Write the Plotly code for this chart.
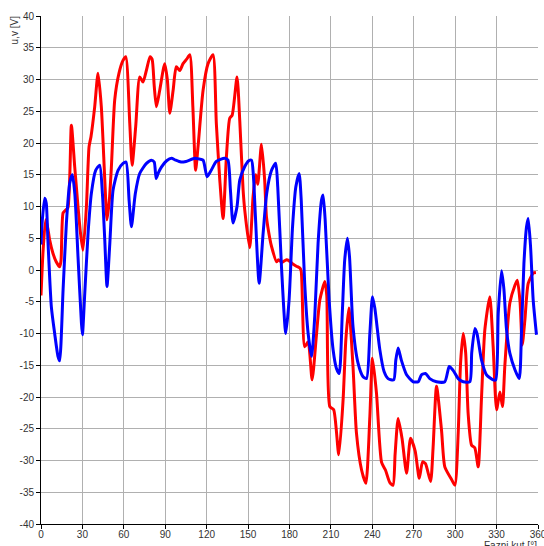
import plotly.graph_objects as go

x_ticks = list(range(0, 361, 30))
y_ticks = list(range(-40, 41, 5))

red_deg = [0, 1.5, 3.4, 5, 6.3, 8.7, 11, 13.5, 14.5, 16, 17.7, 19.5, 22, 24.4, 26.8, 28.5, 30.4,
           32.9, 34.8, 36.2, 38.9, 41.3, 43.7, 46.2, 47.8, 49.5, 51, 53.4, 56.5, 59.4, 61.4, 64.3,
           66, 68.6, 71.5, 73.9, 76.4, 79, 80.5, 82, 83.6, 86, 89.6, 91.5, 93.3, 95.7, 98, 100.5,
           102.9, 105.5, 107.8, 110, 112, 113.7, 117.4, 121, 124.6, 127, 129.5, 131.9, 134.3,
           136.7, 138.5, 142, 144, 146.4, 147.6, 151.2, 153.6, 155.5, 157, 159.7, 162, 163.3,
           165.7, 167, 170.6, 172, 174.4, 177.8, 180, 182.7, 185, 187.5, 188.5, 191, 193.5,
           196.4, 199.6, 202, 205.6, 207, 209.2, 212, 215.7, 218.8, 220.8, 223, 226, 228.5,
           232.2, 235.3, 238.2, 240.1, 243, 246.7, 249.5, 252.7, 255, 256.5, 258.7, 261.5,
           264.8, 267.7, 271, 274, 276.4, 278.5, 282.2, 284, 286.5, 290.1, 292.5, 297.4, 299.8,
           302.2, 303.9, 305.8, 307.6, 309.4, 311.9, 314.2, 316.7, 319.1, 321.5, 325.1, 327.5,
           330, 332.4, 334.3, 336, 339.6, 343.3, 345, 347, 348.6, 350.5, 352.9, 356.5, 358.5]
red_val = [-4, 3, 7.9, 6.5, 4.7, 2.6, 1.3, 0.5, 1.5, 9, 9.4, 9.8, 22.8, 16.3, 10, 6, 3.1,
           10, 19.4, 21, 25.7, 31, 25.7, 14.2, 7.9, 11, 16.3, 26.8, 31, 33, 33.6, 23.1,
           16.5, 22.6, 30.4, 29.6, 31.5, 33.6, 33.2, 29, 25.7, 28.3, 32.5, 30, 24.7, 28.3, 32, 31.4,
           32.5, 33.2, 33.9, 25.7, 15.7, 19.3, 28.3, 32.5, 33.9, 23.1, 14.2, 8.1, 17.8,
           23.9, 24.4, 30.4, 23.4, 12.6, 9.4, 3.5, 11.5, 15, 13.5, 19.8, 14.2, 8.4,
           5, 3.7, 1.3, 1.6, 1.2, 1.6, 1.4, 0.9, 0.6, 0.3, -0.2, -12.1, -11.3,
           -17.3, -10, -4.7, -1.8, -4, -21.5, -22, -29.1, -20.5, -11, -6, -15.2, -25.7,
           -31.5, -33.6, -23.1, -13.9, -19.4, -30.3, -31.5, -33.5, -33.9, -29, -23.4, -26.5,
           -32, -26.5, -28.5, -32.8, -30.2, -30.5, -33.3, -28, -18.3, -25.2, -31, -33, -33.9,
           -25.7, -14.7, -10, -13, -22.6, -27.6, -28, -31, -20, -9.4, -4.2, -12,
           -22, -19.2, -21.5, -15, -5.2, -2.4, -1.6, -5, -11.8, -7.9, -2.1, -0.5, -0.4]

blue_deg = [0, 1, 2.7, 3.8, 5, 7.5, 9.9, 12.3, 13.5, 16, 18.4, 20.8, 22.7, 24.5, 26.8, 29.3, 30,
            31.7, 34.1, 36.5, 39.6, 42.5, 44.5, 46.2, 47.8, 49.8, 52.2, 55.8, 59.4, 61.6, 63.8,
            65.5, 68.3, 71.5, 76.4, 80, 82, 83.4, 85, 87.2, 91, 94.5, 97.5, 101.4, 105, 111.4,
            114, 117.4, 120.3, 123.5, 127, 133, 135.4, 137.2, 139.1, 142, 144, 147.6, 150.5,
            152.5, 153.8, 155.3, 158, 160.9, 163.5, 167, 170, 171.5, 174.2, 177.3, 179.7, 182.2,
            184.6, 187, 188.5, 191, 193.5, 196, 198.3, 200.7, 203.2, 204.3, 205.8, 208.7, 211.6,
            214, 216, 218.2, 220, 222, 223.5, 226, 229.7, 233.3, 235.8, 238.2, 240.1, 241.8,
            245.4, 248.5, 251.4, 255.5, 257, 258.7, 261, 264.8, 269.6, 273.3, 275.6, 278.5,
            281.6, 286.5, 292.5, 295.7, 298.5, 302.2, 305.8, 310.6, 312, 314.3, 315.8, 319.1,
            322.7, 327.5, 329.4, 331.2, 333.6, 335.3, 337.2, 339.6, 343.3, 346.4, 348, 349.8,
            351.7, 352.9, 354.6, 356.5, 358.9]
blue_val = [4, 8, 11.3, 10.5, 4.7, -5.8, -10, -13.6, -14.3, -3.1, 7.4, 13.7, 15, 12, 2.1, -8.4, -10.2,
            -3.7, 5.8, 12.1, 15.7, 16.5, 12, 4.7, -2.6, 4, 12.6, 15.7, 16.8, 17, 11,
            6.8, 12, 15.2, 16.8, 17.3, 17, 14.4, 15.3, 16.2, 17.2, 17.6, 17.3, 17, 17.1, 17.6,
            17.5, 17.3, 14.7, 15.8, 17.1, 17.6, 17.3, 12.6, 7.4, 10, 14.2, 16.3, 17.2,
            17.3, 15, 8.5, -2.1, 5.8, 12.1, 15.7, 16.8, 13, 0.5, -10, -4.7, 6.8,
            13.1, 15.2, 11, -2.1, -10, -13.6, -7.3, 4.2, 11, 11.8, 8, -4.7, -12.6,
            -15.5, -16.3, -7, 1.6, 5, 2, -8.9, -14.7, -16.8, -17.1, -10, -4.2, -6,
            -12.5, -16, -17.1, -17.3, -14.2, -12.3, -14.2, -16.5, -17.6, -17.6, -16.5, -16.3,
            -17.1, -17.6, -17.6, -15.2, -15.8, -17.1, -17.6, -17.6, -13, -9.2, -10, -14.2,
            -16.5, -17.3, -17.3, -6.8, -0.1, -3, -9.4, -13.1, -15.7, -17.1, -10, 1,
            6.8, 8.1, 3.7, -4.7, -10.2]

FONT = "Liberation Sans, Arial, sans-serif"

fig = go.Figure()
fig.add_trace(go.Scatter(x=red_deg, y=red_val, mode="lines",
                         line=dict(color="#ff0000", width=3, shape="spline", smoothing=0.6),
                         showlegend=False, hoverinfo="skip"))
fig.add_trace(go.Scatter(x=blue_deg, y=blue_val, mode="lines",
                         line=dict(color="#0000ff", width=3, shape="spline", smoothing=0.6),
                         showlegend=False, hoverinfo="skip"))

axis_common = dict(showgrid=True, gridcolor="#b0b0b0", gridwidth=1, zeroline=False,
                   showline=True, linecolor="black", linewidth=1,
                   ticks="outside", ticklen=4, tickcolor="black", tickwidth=1,
                   ticklabeloverflow="allow", automargin=False,
                   tickfont=dict(family=FONT, size=10, color="#333333"))

fig.update_xaxes(range=[0, 360], tickvals=x_ticks, ticktext=[str(v) for v in x_ticks],
                 ticklabelstandoff=-3, **axis_common)
fig.update_yaxes(range=[-40, 40], tickvals=y_ticks, ticktext=[str(v) for v in y_ticks],
                 **axis_common)

fig.add_annotation(text="u,v [V]", textangle=-90, xref="paper", yref="paper",
                   x=-0.054, y=0.972, showarrow=False, xanchor="center", yanchor="middle",
                   font=dict(family=FONT, size=10, color="#333333"))
fig.add_annotation(text="Fazni kut [°]", xref="paper", yref="paper",
                   x=0.944, y=-0.028, showarrow=False, xanchor="center", yanchor="top",
                   font=dict(family=FONT, size=10, color="#333333"))

fig.update_layout(width=544, height=546, margin=dict(l=41, r=6, t=16, b=22, autoexpand=False),
                  plot_bgcolor="white", paper_bgcolor="white")

fig.write_html("out.html", config={"displayModeBar": False, "staticPlot": True},
               post_script="document.body.style.margin='0px';document.body.style.overflow='hidden';")
